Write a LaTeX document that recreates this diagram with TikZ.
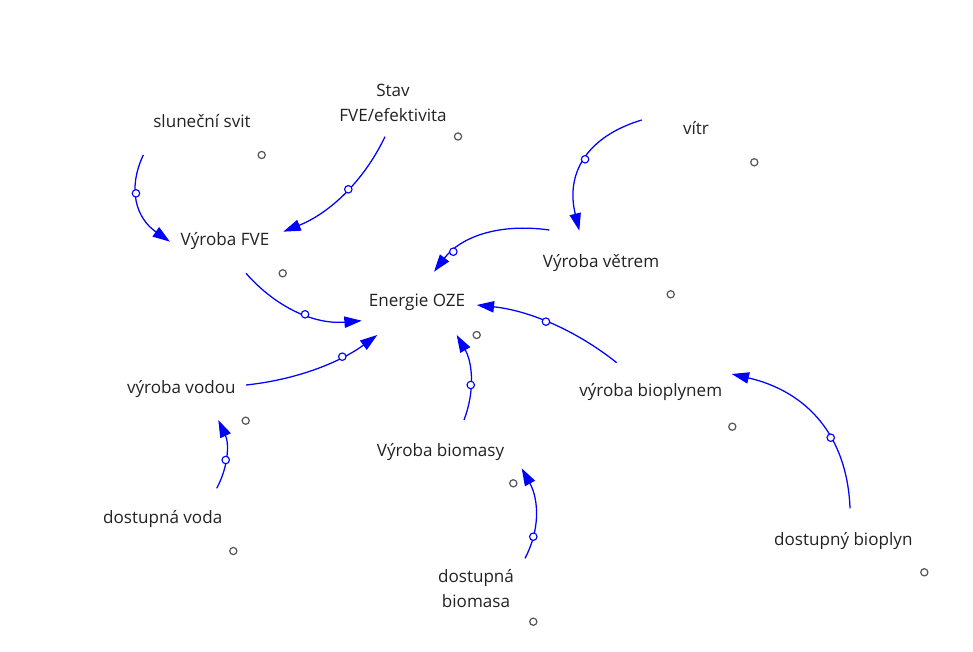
\documentclass[tikz,border=0pt]{standalone}
\usepackage{fontspec}
\setmainfont{Open Sans}
\usetikzlibrary{arrows.meta}
\definecolor{txt}{HTML}{222222}
\definecolor{dotc}{HTML}{555555}
\definecolor{lnk}{HTML}{0000FF}
\tikzset{
  var/.style={font=\fontsize{12.8}{18.75}\selectfont, text=txt, inner sep=0pt, anchor=base},
  mvar/.style={font=\fontsize{12.8}{18.75}\selectfont, text=txt, inner sep=0pt, align=center},
  stub/.style={circle, draw=dotc, line width=0.9pt, minimum size=5.4pt, inner sep=0pt},
  link/.style={draw=lnk, line width=0.95pt, -{Triangle[length=13pt,width=8.5pt]}},
  ring/.style={circle, draw=lnk, fill=white, line width=0.85pt, minimum size=5.6pt, inner sep=0pt}
}
\begin{document}
\begin{tikzpicture}[x=0.75pt, y=-0.75pt]
\useasboundingbox (0,0) rectangle (973,652);
% variables
\node[var] (sun) at (202,128) {sluneční svit};
\node[mvar] (stav) at (393,102.5) {Stav\\FVE/efektivita};
\node[var] (vitr) at (696,135) {vítr};
\node[var] (fve) at (225,245) {Výroba FVE};
\node[var] (eoze) at (417,306.7) {Energie OZE};
\node[var] (vetr) at (601,267) {Výroba větrem};
\node[var] (voda) at (181.3,393.3) {výroba vodou};
\node[var] (bioplyn) at (650.7,396.7) {výroba bioplynem};
\node[var] (biomasy) at (440.5,456.7) {Výroba biomasy};
\node[var] (dvoda) at (162.7,523.3) {dostupná voda};
\node[mvar] (dbiomasa) at (476,588.6) {dostupná\\biomasa};
\node[var] (dbioplyn) at (843.3,545) {dostupný bioplyn};
% stubs
\node[stub] (sunS) at ([shift={(59.7,27)}]sun.base) {};
\node[stub] (stavS) at ([shift={(65,34)}]stav.center) {};
\node[stub] (vitrS) at ([shift={(58.3,27.3)}]vitr.base) {};
\node[stub] (fveS) at ([shift={(57.7,28.3)}]fve.base) {};
\node[stub] (eozeS) at ([shift={(59.7,28.3)}]eoze.base) {};
\node[stub] (vetrS) at ([shift={(69.7,27.3)}]vetr.base) {};
\node[stub] (vodaS) at ([shift={(64.4,27.4)}]voda.base) {};
\node[stub] (bioplynS) at ([shift={(81.6,30)}]bioplyn.base) {};
\node[stub] (biomasyS) at ([shift={(72.8,26.6)}]biomasy.base) {};
\node[stub] (dvodaS) at ([shift={(70.6,27.7)}]dvoda.base) {};
\node[stub] (dbiomasaS) at ([shift={(57.3,33.1)}]dbiomasa.center) {};
\node[stub] (dbioplynS) at ([shift={(81,27.3)}]dbioplyn.base) {};
% links
\draw[link] ([shift={(-58.7,27)}]sun.base) .. controls +(-16.1,34.2) and +(-33.9,-23.6) .. node[ring,pos=0.398]{} ([shift={(-55,-3.3)}]fve.base);
\draw[link] ([shift={(-8,34.2)}]stav.center) .. controls +(-21.4,44.7) and +(46.4,-18.7) .. node[ring,pos=0.452]{} ([shift={(58.3,-13.3)}]fve.base);
\draw[link] ([shift={(-54.3,-15)}]vitr.base) .. controls +(-55.5,16.8) and +(-13.9,-57) .. node[ring,pos=0.491]{} ([shift={(-21.7,-36.3)}]vetr.base);
\draw[link] ([shift={(-51.7,-37)}]vetr.base) .. controls +(-50.2,-7.1) and +(26.7,-34.9) .. node[ring,pos=0.78]{} ([shift={(17,-35)}]eoze.base);
\draw[link] ([shift={(21,28.3)}]fve.base) .. controls +(31.3,35.5) and +(-45.9,3.9) .. node[ring,pos=0.557]{} ([shift={(-55.3,14)}]eoze.base);
\draw[link] ([shift={(64.7,-8.3)}]voda.base) .. controls +(48.9,-5.1) and +(-38.6,28.2) .. node[ring,pos=0.709]{} ([shift={(-39.7,28.3)}]eoze.base);
\draw[link] ([shift={(23.5,-36.7)}]biomasy.base) .. controls +(11,-28.9) and +(15.9,27.8) .. node[ring,pos=0.407]{} ([shift={(39.7,28.3)}]eoze.base);
\draw[link] ([shift={(-34,-34)}]bioplyn.base) .. controls +(-41.3,-32.9) and +(52,5.5) .. node[ring,pos=0.534]{} ([shift={(59.7,-1.7)}]eoze.base);
\draw[link] ([shift={(6.7,-36.7)}]dbioplyn.base) .. controls +(-2.7,-71.8) and +(76.1,17.7) .. node[ring,pos=0.383]{} ([shift={(81,-22.7)}]bioplyn.base);
\draw[link] ([shift={(54,-35)}]dvoda.base) .. controls +(11.9,-22.1) and +(10.9,23.5) .. node[ring,pos=0.422]{} ([shift={(37,26.7)}]voda.base);
\draw[link] ([shift={(49,-30.3)}]dbiomasa.center) .. controls +(15.1,-28.4) and +(17.3,31.6) .. node[ring,pos=0.25]{} ([shift={(81.2,11.6)}]biomasy.base);
\end{tikzpicture}
\end{document}
